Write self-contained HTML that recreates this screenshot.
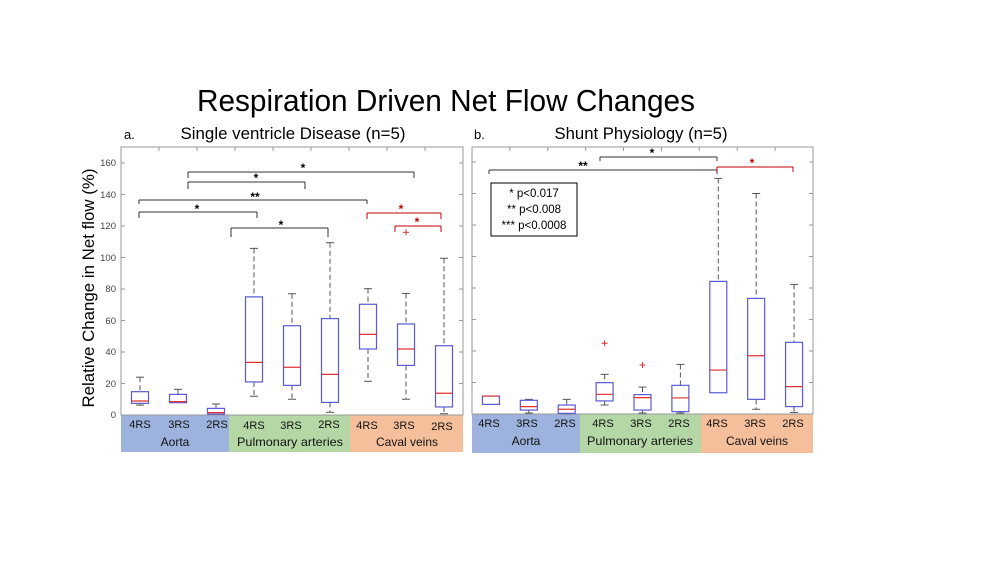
<!DOCTYPE html>
<html><head><meta charset="utf-8"><style>
html,body{margin:0;padding:0;background:#fff;}
svg{display:block;font-family:"Liberation Sans",sans-serif;}
</style></head><body>
<svg id="s" width="1000" height="563" viewBox="0 0 1000 563" xmlns="http://www.w3.org/2000/svg">
<text x="446" y="111" font-size="31" text-anchor="middle" textLength="498" lengthAdjust="spacingAndGlyphs">Respiration Driven Net Flow Changes</text>
<text x="124" y="139" font-size="13">a.</text>
<text x="293" y="139" font-size="16.5" text-anchor="middle" textLength="225" lengthAdjust="spacingAndGlyphs">Single ventricle Disease (n=5)</text>
<text x="474" y="139" font-size="13">b.</text>
<text x="641" y="139" font-size="16.5" text-anchor="middle" textLength="173" lengthAdjust="spacingAndGlyphs">Shunt Physiology (n=5)</text>
<text transform="translate(94,288) rotate(-90)" font-size="17" text-anchor="middle" textLength="239" lengthAdjust="spacingAndGlyphs">Relative Change in Net flow (%)</text>
<g font-size="9.5" fill="#444" text-anchor="end">
<text x="116" y="418">0</text><text x="116" y="387">20</text><text x="116" y="355">40</text><text x="116" y="324">60</text><text x="116" y="292">80</text><text x="116" y="261">100</text><text x="116" y="229">120</text><text x="116" y="198">140</text><text x="116" y="166">160</text>
</g>
<rect x="121" y="415" width="108" height="37" fill="#9db3de"/>
<rect x="229" y="415" width="121" height="37" fill="#b4d7a5"/>
<rect x="350" y="415" width="113" height="37" fill="#f5bf9c"/>
<rect x="472" y="414" width="108" height="39" fill="#9db3de"/>
<rect x="580" y="414" width="121" height="39" fill="#b4d7a5"/>
<rect x="701" y="414" width="112" height="39" fill="#f5bf9c"/>
<g font-size="11" text-anchor="middle" fill="#111">
<text x="140" y="428">4RS</text><text x="179" y="428">3RS</text><text x="217" y="428">2RS</text>
<text x="254" y="429">4RS</text><text x="291" y="429">3RS</text><text x="329" y="428">2RS</text>
<text x="367" y="429">4RS</text><text x="404" y="429">3RS</text><text x="442" y="430">2RS</text>
<text x="489" y="427">4RS</text><text x="527" y="427">3RS</text><text x="565" y="427">2RS</text>
<text x="603" y="427">4RS</text><text x="641" y="427">3RS</text><text x="679" y="427">2RS</text>
<text x="717" y="427">4RS</text><text x="755" y="427">3RS</text><text x="793" y="427">2RS</text>
</g>
<g font-size="12" text-anchor="middle" fill="#111">
<text x="175" y="446">Aorta</text><text x="290" y="446" textLength="106" lengthAdjust="spacingAndGlyphs">Pulmonary arteries</text><text x="407" y="446">Caval veins</text>
<text x="526" y="445">Aorta</text><text x="640" y="445" textLength="106" lengthAdjust="spacingAndGlyphs">Pulmonary arteries</text><text x="757" y="445">Caval veins</text>
</g>
<g id="g"></g>
<rect x="491" y="183" width="86" height="53" fill="#fff" stroke="#000" stroke-width="1"/>
<g font-size="11.5" text-anchor="middle">
<text x="534" y="197">* p&lt;0.017</text>
<text x="534" y="213">** p&lt;0.008</text>
<text x="534" y="229">*** p&lt;0.0008</text>
</g>
<g font-size="12" font-weight="bold" text-anchor="middle">
<text x="303" y="172">*</text><text x="256" y="182">*</text><text x="255" y="201">**</text>
<text x="197" y="213">*</text><text x="281" y="229">*</text>
<text x="401" y="213" fill="#c00000">*</text><text x="417" y="226" fill="#c00000">*</text>
<text x="652" y="157">*</text><text x="583" y="170">**</text><text x="752" y="167" fill="#c00000">*</text>
</g>
</svg>
<script>
var g=document.getElementById('g'),NS='http://www.w3.org/2000/svg';
function el(t,a){var e=document.createElementNS(NS,t);for(var k in a)e.setAttribute(k,a[k]);g.appendChild(e);return e;}
function ln(x1,y1,x2,y2,c,w,d){var a={x1:x1,y1:y1,x2:x2,y2:y2,stroke:c,'stroke-width':w||1};if(d)a['stroke-dasharray']=d;el('line',a);}
function panel(L,R,T,B,data){
 var sc=1.575;function Y(v){return B-v*sc;}
 el('rect',{x:L,y:T,width:R-L,height:B-T,fill:'none',stroke:'#999','stroke-width':1});
 for(var v=0;v<=160;v+=20){ln(L,Y(v),L+4,Y(v),'#999',1);ln(R,Y(v),R-4,Y(v),'#999',1);}
 var dx=(R-L)/9;
 for(var i=1;i<9;i++){ln(L+i*dx,T,L+i*dx,T+4,'#999',1);}
 data.forEach(function(d,i){
  var c=L+dx*(i+0.5),h=8.5;
  if(d[4]>d[3]){ln(c,Y(d[4]),c,Y(d[3]),'#555',1,'5,3');ln(c-4,Y(d[4]),c+4,Y(d[4]),'#555',1);}
  if(d[0]<d[1]){ln(c,Y(d[1]),c,Y(d[0]),'#555',1,'5,3');ln(c-4,Y(d[0]),c+4,Y(d[0]),'#555',1);}
  el('rect',{x:c-h,y:Y(d[3]),width:2*h,height:Y(d[1])-Y(d[3]),fill:'none',stroke:'#5a5ad8','stroke-width':1.2});
  ln(c-h,Y(d[2]),c+h,Y(d[2]),'#e03030',1.2);
  (d[5]||[]).forEach(function(o){ln(c-3,Y(o),c+3,Y(o),'#e03030',1);ln(c,Y(o)-3,c,Y(o)+3,'#e03030',1);});
 });
}
panel(121,463,147,415,[
 [6.3,7.4,8.9,14.8,24],[7.8,7.8,8.5,13.1,16.3],[0.6,0.6,1.5,4.2,7],
 [11.9,21,33.4,75,105.8],[10,18.8,30.3,56.7,77],[1.7,8,25.8,61.2,109.4],
 [21.4,41.9,51.2,70.3,80.2],[10,31.5,41.9,57.8,77.2,[116]],[0.8,5.1,13.8,44,99.5]]);
panel(472,813,147,414,[
 [6.1,6.1,11.4,11.4,11.4],[0.6,2.5,4.7,8.7,9.3],[0.2,0.4,3,5.7,9.3],
 [5.7,8.3,12.5,19.9,25.2,[44.9]],[0.6,2.5,10.4,12.3,17.1,[31.1]],[0.6,1.5,10.2,18.2,31.5],
 [13.5,13.5,27.9,84.2,149.6],[3,9.3,37,73.4,140],[1,4.7,17.4,45.5,82.3]]);
function br(x1,x2,y,yd,c){ln(x1,y,x2,y,c,1);ln(x1,y,x1,yd,c,1);ln(x2,y,x2,yd,c,1);}
br(188,414,172,178,'#333');br(188,305,182,189,'#333');br(139,367,200,204,'#333');
br(139,257,212,218,'#333');br(231,328,228,237,'#333');
br(367,441,213,219,'#c00000');br(395,441,226,232,'#c00000');
br(600,717,157,161,'#333');br(489,717,170,174,'#333');br(717,793,167,172,'#c00000');
</script>
</body></html>
